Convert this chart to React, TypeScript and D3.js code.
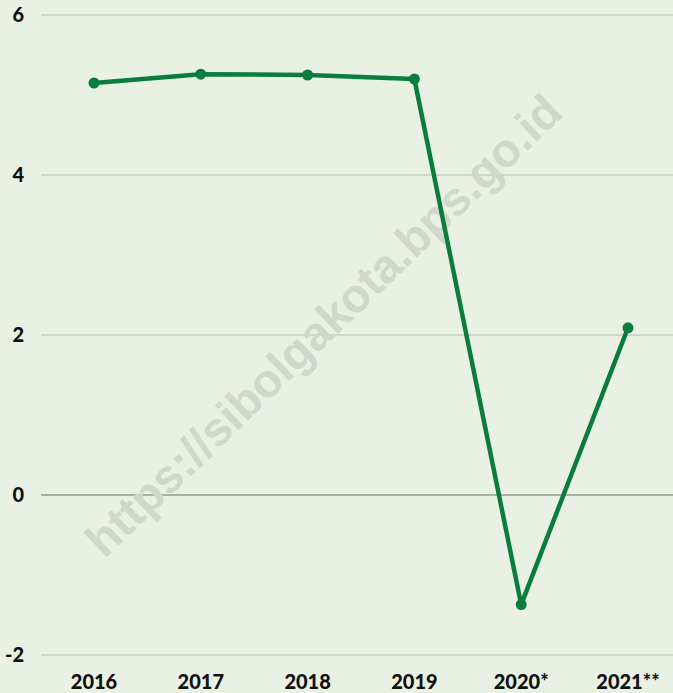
import * as d3 from "d3";

const years = ["2016", "2017", "2018", "2019", "2020*", "2021**"];
const growth = [5.15, 5.26, 5.25, 5.2, -1.37, 2.09];
const yTicks = [-2, 0, 2, 4, 6];

const W = 673;
const H = 693;

export default function App() {
  const x = d3.scalePoint<string>().domain(years).range([94, 628]);
  const y = d3.scaleLinear().domain([-2, 6]).range([655, 15]);

  const rows = years.map((yr, i) => ({ yr, v: growth[i] }));
  const line = d3
    .line<{ yr: string; v: number }>()
    .x((d) => x(d.yr) ?? 0)
    .y((d) => y(d.v));

  const font = "Lato, 'DejaVu Sans', sans-serif";

  return (
    <svg
      width={W}
      height={H}
      style={{ position: "absolute", left: 0, top: 0, display: "block" }}
    >
      <rect width={W} height={H} fill="#e9f1e4" />

      {yTicks.map((t) => (
        <g key={t}>
          <line
            x1={41}
            x2={W}
            y1={y(t)}
            y2={y(t)}
            stroke={t === 0 ? "#6b7268" : "#b3bcae"}
            strokeWidth={1}
          />
          <text
            x={24}
            y={y(t) + 7}
            textAnchor="end"
            fontFamily={font}
            fontWeight={900}
            fontSize={20}
            fill="#111"
          >
            {t}
          </text>
        </g>
      ))}

      <text
        transform="translate(326,328) rotate(-44)"
        textAnchor="middle"
        dominantBaseline="middle"
        fontFamily="'Liberation Sans', Arial, sans-serif"
        fontWeight={700}
        fontSize={47}
        fill="#cfd8cb"
      >
        https://sibolgakota.bps.go.id
      </text>

      <path
        d={line(rows) ?? ""}
        fill="none"
        stroke="#0a7d3e"
        strokeWidth={4.5}
        strokeLinejoin="round"
      />
      {rows.map((d) => (
        <circle key={d.yr} cx={x(d.yr)} cy={y(d.v)} r={5.5} fill="#0a7d3e" />
      ))}

      {years.map((yr) => (
        <text
          key={yr}
          x={x(yr)}
          y={689}
          textAnchor="middle"
          fontFamily={font}
          fontWeight={900}
          fontSize={20}
          fill="#111"
        >
          {yr}
        </text>
      ))}
    </svg>
  );
}
